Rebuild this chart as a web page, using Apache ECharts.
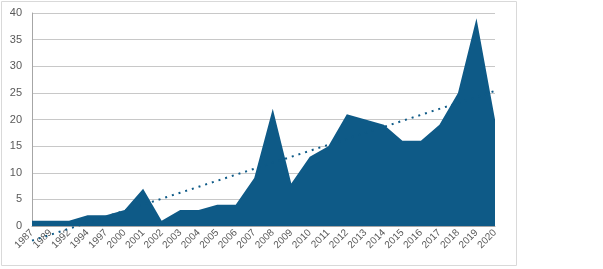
<!DOCTYPE html>
<html>
<head>
<meta charset="utf-8">
<script src="https://cdn.jsdelivr.net/npm/echarts@6/dist/echarts.min.js"></script>
<style>
  html, body { margin: 0; padding: 0; background: #fff; }
  #chart { width: 603px; height: 269px; }
</style>
</head>
<body>
<div id="chart"></div>
<script>
const years = ['1987', '1989', '1992', '1994', '1997', '2000', '2001', '2002', '2003', '2004',
  '2005', '2006', '2007', '2008', '2009', '2010', '2011', '2012', '2013', '2014',
  '2015', '2016', '2017', '2018', '2019', '2020']
const counts = [1, 1, 1, 2, 2, 3, 7, 1, 3, 3,
  4, 4, 9, 22, 8, 13, 15, 21, 20, 19,
  16, 16, 19, 25, 39, 20]
const yTicks = [0, 5, 10, 15, 20, 25, 30, 35, 40]

const blue = '#0e5a87'

// linear trend over the category index, like the spreadsheet trendline
const linearTrend = (vals) => {
  const n = vals.length
  const mx = (n - 1) / 2
  const my = vals.reduce((a, b) => a + b, 0) / n
  let sxy = 0
  let sxx = 0
  vals.forEach((v, i) => {
    sxy += (i - mx) * (v - my)
    sxx += (i - mx) * (i - mx)
  })
  const slope = sxy / sxx
  return vals.map((v, i) => my + slope * (i - mx))
}

const chart = echarts.init(document.getElementById('chart'))

chart.setOption({
  animation: false,
  textStyle: { fontFamily: 'Liberation Sans, Arial, sans-serif' },
  graphic: [
    {
      type: 'rect',
      shape: { x: 1.5, y: 1.5, width: 515, height: 264 },
      style: { fill: 'none', stroke: '#d9d9d9', lineWidth: 1 },
      silent: true
    }
  ],
  grid: {
    left: 32,
    right: 108,
    top: 13,
    bottom: 43
  },
  xAxis: {
    type: 'category',
    data: years,
    boundaryGap: false,
    axisLine: { lineStyle: { color: '#a6a6a6' } },
    axisTick: { show: false },
    axisLabel: {
      rotate: 45,
      interval: 0,
      margin: 5,
      fontSize: 10,
      color: '#595959'
    }
  },
  yAxis: {
    type: 'value',
    min: yTicks[0],
    max: yTicks[yTicks.length - 1],
    interval: 5,
    axisLine: { show: true, lineStyle: { color: '#a6a6a6' } },
    axisTick: { show: false },
    axisLabel: { fontSize: 11, color: '#595959', margin: 10 },
    splitLine: { lineStyle: { color: '#c8c8c8', width: 1 } }
  },
  series: [
    {
      type: 'line',
      data: counts,
      symbol: 'none',
      lineStyle: { width: 0 },
      areaStyle: { color: blue, opacity: 1 },
      z: 2
    },
    {
      type: 'line',
      data: linearTrend(counts),
      symbol: 'none',
      clip: false,
      lineStyle: { color: blue, width: 2, type: [2, 5] },
      z: 3
    }
  ]
})
</script>
</body>
</html>
